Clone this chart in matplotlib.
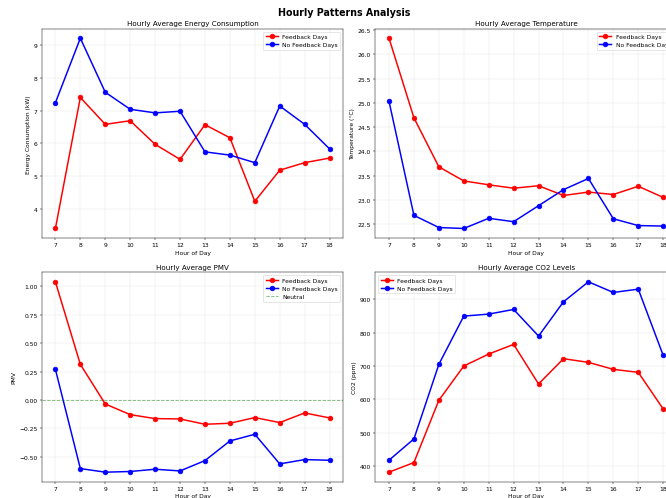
#Plots hourly patterns for feedback vs no-feedback days
#
import numpy as np
import matplotlib
matplotlib.use('Agg')
import matplotlib.pyplot as plt

hours = list(range(7, 19))

# Energy consumption (kW)
energy_fb = [3.40, 7.40, 6.58, 6.69, 5.97, 5.51, 6.57, 6.17, 4.23, 5.18, 5.41, 5.55]
energy_nofb = [7.24, 9.21, 7.56, 7.04, 6.93, 6.98, 5.74, 5.64, 5.41, 7.14, 6.58, 5.83]

# Temperature (C)
temp_fb = [26.33, 24.69, 23.68, 23.39, 23.31, 23.24, 23.29, 23.09, 23.16, 23.11, 23.28, 23.05]
temp_nofb = [25.03, 22.68, 22.43, 22.41, 22.62, 22.55, 22.88, 23.21, 23.44, 22.61, 22.47, 22.46]

# PMV
pmv_fb = [1.041, 0.314, -0.035, -0.129, -0.164, -0.167, -0.214, -0.205, -0.155, -0.199, -0.114, -0.158]
pmv_nofb = [0.270, -0.604, -0.636, -0.630, -0.610, -0.625, -0.534, -0.361, -0.302, -0.563, -0.525, -0.531]

# CO2 (ppm)
co2_fb = [381, 410, 597, 700, 736, 765, 646, 722, 711, 690, 681, 571]
co2_nofb = [417, 481, 705, 850, 856, 870, 790, 893, 953, 921, 931, 732]

W, H = 666, 499
DPI = 43
fig = plt.figure(figsize=(W / DPI, H / DPI), dpi=DPI)

# axes placed in pixels (left, top, width, height) -- right column runs off the edge
def px_axes(left, top, width, height):
    return fig.add_axes([left / W, 1 - (top + height) / H, width / W, height / H])

ax1 = px_axes(41.7, 29.7, 301.6, 209.3)
ax2 = px_axes(375.3, 29.7, 301.6, 209.3)
ax3 = px_axes(41.7, 273.3, 301.6, 209.4)
ax4 = px_axes(375.3, 273.3, 301.6, 209.4)

panels = [
    (ax1, energy_fb, energy_nofb, 'Hourly Average Energy Consumption', 'Energy Consumption (kW)', 'upper right'),
    (ax2, temp_fb, temp_nofb, 'Hourly Average Temperature', 'Temperature (°C)', 'upper right'),
    (ax3, pmv_fb, pmv_nofb, 'Hourly Average PMV', 'PMV', 'upper right'),
    (ax4, co2_fb, co2_nofb, 'Hourly Average CO2 Levels', 'CO2 (ppm)', 'upper left'),
]

for ax, fb, nofb, title, ylabel, loc in panels:
    ax.plot(hours, fb, 'o-', color='red', linewidth=2.5, markersize=8, label='Feedback Days')
    ax.plot(hours, nofb, 'o-', color='blue', linewidth=2.5, markersize=8, label='No Feedback Days')
    if ax is ax3:
        ax.axhline(0, color='green', linestyle='--', alpha=0.5, label='Neutral')
    ax.set_title(title, fontsize=12)
    ax.set_xlabel('Hour of Day')
    ax.set_ylabel(ylabel)
    ax.set_xticks(hours)
    ax.grid(True, alpha=0.3)
    ax.legend(loc=loc)

fig.suptitle('Hourly Patterns Analysis', fontsize=16, fontweight='bold',
             x=344 / W, y=1 - 13.5 / H, va='center')

fig.savefig('out.png', dpi=DPI)
